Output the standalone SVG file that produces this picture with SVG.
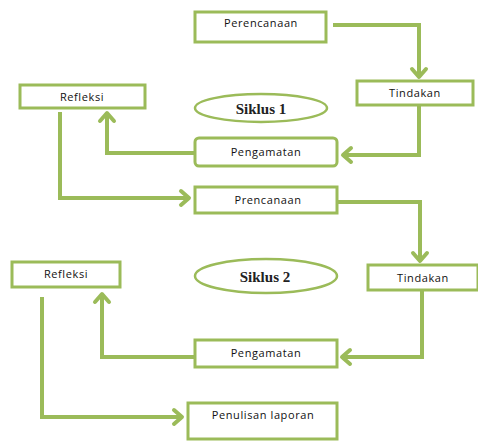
<svg xmlns="http://www.w3.org/2000/svg" width="478" height="442" viewBox="0 0 478 442">
<style>
.box{fill:#fff;stroke:#9bbb59;stroke-width:3}
.ell{fill:#fff;stroke:#9bbb59;stroke-width:2.5}
.t{font-family:"Open Sans","Liberation Sans",sans-serif;font-size:11px;fill:#111;text-anchor:middle;letter-spacing:0.6px}
.s{font-family:"Liberation Serif",serif;font-size:15px;font-weight:bold;fill:#222;text-anchor:middle}
.c{fill:none;stroke:#9bbb59;stroke-width:4;marker-end:url(#ah)}
</style>
<defs>
<marker id="ah" viewBox="-12 -10 16 20" refX="0" refY="0" markerWidth="16" markerHeight="20" markerUnits="userSpaceOnUse" orient="auto">
<path d="M-8,-7 L0,0 L-8,7" fill="none" stroke="#9bbb59" stroke-width="4" stroke-linecap="round" stroke-linejoin="round"/>
</marker>
</defs>
<g id="connectors">
<path class="c" d="M333,25 H419 V77"/>
<path class="c" d="M419,106 V155 H343"/>
<path class="c" d="M195,153 H107 V113"/>
<path class="c" d="M60,112 V198 H189"/>
<path class="c" d="M337,202 H420 V261"/>
<path class="c" d="M422,291 V357 H342"/>
<path class="c" d="M195,357 H102 V294"/>
<path class="c" d="M42,297 V417 H182"/>
</g>
<g id="perencanaan1"><rect class="box" x="195" y="12" width="131" height="30"/><text class="t" x="261" y="27">Perencanaan</text></g>
<g id="tindakan1"><rect class="box" x="357" y="81" width="116" height="24"/><text class="t" x="415" y="97">Tindakan</text></g>
<g id="siklus1"><ellipse class="ell" cx="261" cy="108" rx="66" ry="14"/><text class="s" x="261" y="114">Siklus 1</text></g>
<g id="refleksi1"><rect class="box" x="20" y="85" width="125" height="23"/><text class="t" x="82" y="101">Refleksi</text></g>
<g id="pengamatan1"><rect class="box" x="195" y="138" width="142" height="28" rx="4"/><text class="t" x="266" y="156">Pengamatan</text></g>
<g id="prencanaan"><rect class="box" x="195" y="187" width="142" height="26"/><text class="t" x="268" y="204">Prencanaan</text></g>
<g id="siklus2"><ellipse class="ell" cx="266" cy="276" rx="71" ry="17"/><text class="s" x="265" y="282">Siklus 2</text></g>
<g id="tindakan2"><rect class="box" x="368" y="265" width="110" height="25"/><text class="t" x="423" y="282">Tindakan</text></g>
<g id="refleksi2"><rect class="box" x="12" y="262" width="108" height="25"/><text class="t" x="66" y="278">Refleksi</text></g>
<g id="pengamatan2"><rect class="box" x="195" y="340" width="142" height="27"/><text class="t" x="266" y="357">Pengamatan</text></g>
<g id="penulisan"><rect class="box" x="188" y="403" width="149" height="36"/><text class="t" x="263" y="419">Penulisan laporan</text></g>
</svg>
